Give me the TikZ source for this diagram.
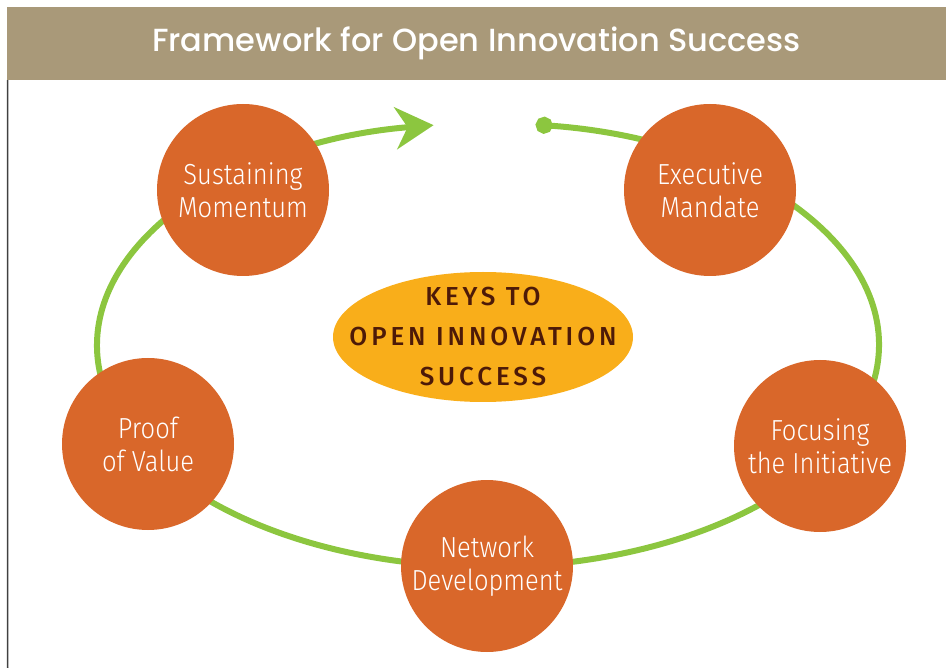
\documentclass[tikz,border=0pt]{standalone}
\usepackage{fontspec}
\setmainfont{Fira Sans}
\newfontfamily\titlefont{Poppins Medium}
\newfontfamily\stepfont{Fira Sans Light}[FakeStretch=0.88]
\newfontfamily\keyfont{Fira Sans Medium}[LetterSpace=15]
\usetikzlibrary{shapes.geometric,arrows.meta,calc}

\definecolor{headbg}{HTML}{A99979}
\definecolor{stepfill}{HTML}{D9672A}
\definecolor{keyfill}{HTML}{F9AE1A}
\definecolor{keytext}{HTML}{4D1A08}
\definecolor{loopgreen}{HTML}{8CC63F}

\begin{document}
\begin{tikzpicture}[x=1pt, y=-1pt]
    \tikzstyle{headbar}  = [rectangle, fill=headbg, minimum width=939pt, minimum height=73pt, inner sep=0pt, text=white, font=\titlefont\fontsize{32}{34}\selectfont]
    \tikzstyle{stepnode} = [circle, fill=stepfill, minimum size=172pt, inner sep=0pt, text=white, align=center, font=\stepfont\fontsize{29}{33}\selectfont]
    \tikzstyle{keynode}  = [ellipse, fill=keyfill, minimum width=300pt, minimum height=130pt, inner sep=0pt]
    \tikzstyle{keylabel} = [inner sep=0pt, text=keytext, align=center, font=\keyfont\fontsize{26}{40}\selectfont]
    \tikzstyle{loop}     = [line width=6pt, draw=loopgreen, {Circle[length=17pt]}-{Stealth[length=38pt, width=42pt, inset=12pt]}]
    \tikzstyle{frame}    = [line width=1.5pt, draw=black!75]

    \useasboundingbox (0,0) rectangle (946,668);

    \node [headbar] (title) at (476.5,43.5) {Framework for Open Innovation Success};
    \coordinate (frameend) at (7.75,668);
    \draw [frame] ([xshift=0.75pt]title.south west) -- (frameend);

    % the cycle runs behind the circles
    \coordinate (loopc) at (488,345);
    \draw [loop] ($(loopc)+(-83:391 and 222)$) arc[start angle=-83, end angle=262, x radius=391, y radius=222];

    \node [keynode] (keys) at (483,337) {};
    \node [keylabel] (keytext) at (keys.center) {KEYS TO\\OPEN INNOVATION\\SUCCESS};

    \node [stepnode] (mandate)  at (710,190) {Executive\\Mandate};
    \node [stepnode] (focus)    at (820,446) {Focusing\\the Initiative};
    \node [stepnode] (network)  at (487,566) {Network\\Development};
    \node [stepnode] (proof)    at (148,444) {Proof\\of Value};
    \node [stepnode] (momentum) at (243,190) {Sustaining\\Momentum};

\end{tikzpicture}
\end{document}
